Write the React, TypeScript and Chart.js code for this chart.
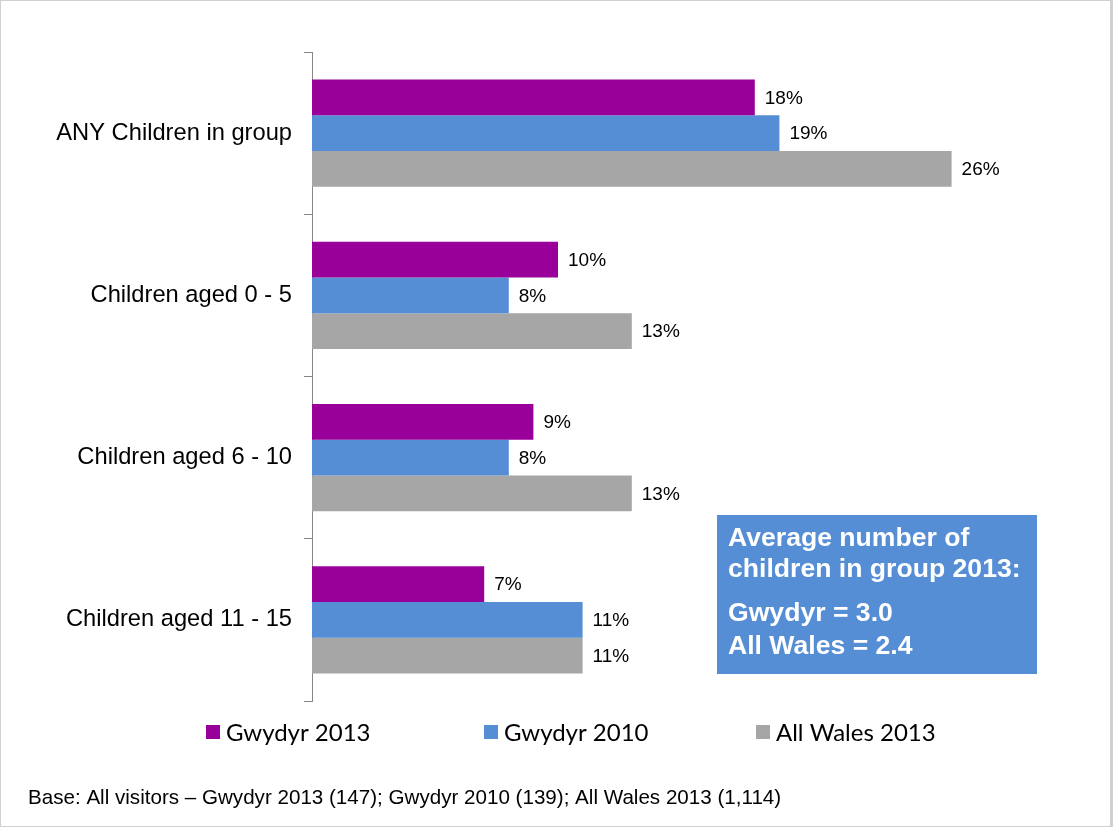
import React, { useEffect, useRef } from "react";
import { Chart, registerables } from "chart.js";

Chart.register(...registerables);

const categories = ["ANY Children in group", "Children aged 0 - 5", "Children aged 6 - 10", "Children aged 11 - 15"];
const seriesNames = ["Gwydyr 2013", "Gwydyr 2010", "All Wales 2013"];
const gwydyr2013 = [18, 10, 9, 7];
const gwydyr2010 = [19, 8, 8, 11];
const allWales2013 = [26, 13, 13, 11];
const colors = ["#990099", "#558ED5", "#A6A6A6"];
const footnote = "Base: All visitors \u2013 Gwydyr 2013 (147); Gwydyr 2010 (139); All Wales 2013 (1,114)";
const boxLines1 = ["Average number of", "children in group 2013:"];
const boxLines2 = ["Gwydyr = 3.0", "All Wales = 2.4"];

const labelsPlugin = {
  id: "extras",
  afterDatasetsDraw(chart: any) {
    const ctx = chart.ctx;
    ctx.save();
    ctx.font = "19px 'Liberation Sans', Arial, sans-serif";
    ctx.fillStyle = "#000";
    ctx.textBaseline = "middle";
    ctx.textAlign = "left";
    chart.data.datasets.forEach((ds: any, i: number) => {
      const meta = chart.getDatasetMeta(i);
      meta.data.forEach((bar: any, j: number) => {
        ctx.fillText(ds.data[j] + "%", bar.x + 10, bar.y + 1);
      });
    });
    ctx.restore();
  },
  afterDraw(chart: any) {
    const ctx = chart.ctx;
    ctx.save();
    const legendX = [205, 483, 755];
    const legendY = 731;
    ctx.font = "24px Lato, 'Open Sans', sans-serif";
    ctx.textBaseline = "middle";
    ctx.textAlign = "left";
    chart.data.datasets.forEach((ds: any, i: number) => {
      ctx.fillStyle = ds.backgroundColor;
      ctx.fillRect(legendX[i], legendY - 7, 14, 14);
      ctx.fillStyle = "#000";
      ctx.fillText(ds.label, legendX[i] + 20, legendY + 1);
    });
    ctx.font = "20.6px 'Liberation Sans', Arial, sans-serif";
    ctx.fillStyle = "#000";
    ctx.fillText(footnote, 27, 797);
    ctx.fillStyle = "#558ED5";
    ctx.fillRect(716, 514, 320, 159);
    ctx.fillStyle = "#fff";
    ctx.font = "bold 26.6px 'Liberation Sans', Arial, sans-serif";
    ctx.fillText(boxLines1[0], 727, 538);
    ctx.fillText(boxLines1[1], 727, 569);
    ctx.fillText(boxLines2[0], 727, 613);
    ctx.fillText(boxLines2[1], 727, 646);
    ctx.restore();
  },
};

export default function App() {
  const ref = useRef<HTMLCanvasElement>(null);
  useEffect(() => {
    if (!ref.current) return;
    const chart = new Chart(ref.current, {
      type: "bar",
      data: {
        labels: categories,
        datasets: [
          { label: seriesNames[0], data: gwydyr2013, backgroundColor: colors[0] },
          { label: seriesNames[1], data: gwydyr2010, backgroundColor: colors[1] },
          { label: seriesNames[2], data: allWales2013, backgroundColor: colors[2] },
        ],
      },
      options: {
        indexAxis: "y",
        animation: false,
        responsive: false,
        maintainAspectRatio: false,
        layout: { padding: { top: 51, bottom: 125, left: 0, right: 60 } },
        datasets: { bar: { categoryPercentage: 0.66, barPercentage: 1.0 } },
        plugins: { legend: { display: false }, tooltip: { enabled: false } },
        scales: {
          x: { display: false, min: 0, max: 30 },
          y: {
            afterFit: (s: any) => { s.width = 311; },
            grid: { drawOnChartArea: false, drawTicks: true, tickLength: 8, color: "#868686", offset: true },
            border: { color: "#868686", width: 1 },
            ticks: { color: "#000", padding: 12, font: { size: 23.7, family: "'Liberation Sans', Arial, sans-serif" } },
          },
        },
      },
      plugins: [labelsPlugin],
    } as any);
    return () => chart.destroy();
  }, []);
  return (
    <div style={{ position: "absolute", left: 0, top: 0, width: 1113, height: 827, background: "#fff", boxSizing: "border-box", border: "1px solid #d0d0d0", borderRightWidth: 3 }}>
      <canvas ref={ref} width={1109} height={825} style={{ display: "block" }} />
    </div>
  );
}
